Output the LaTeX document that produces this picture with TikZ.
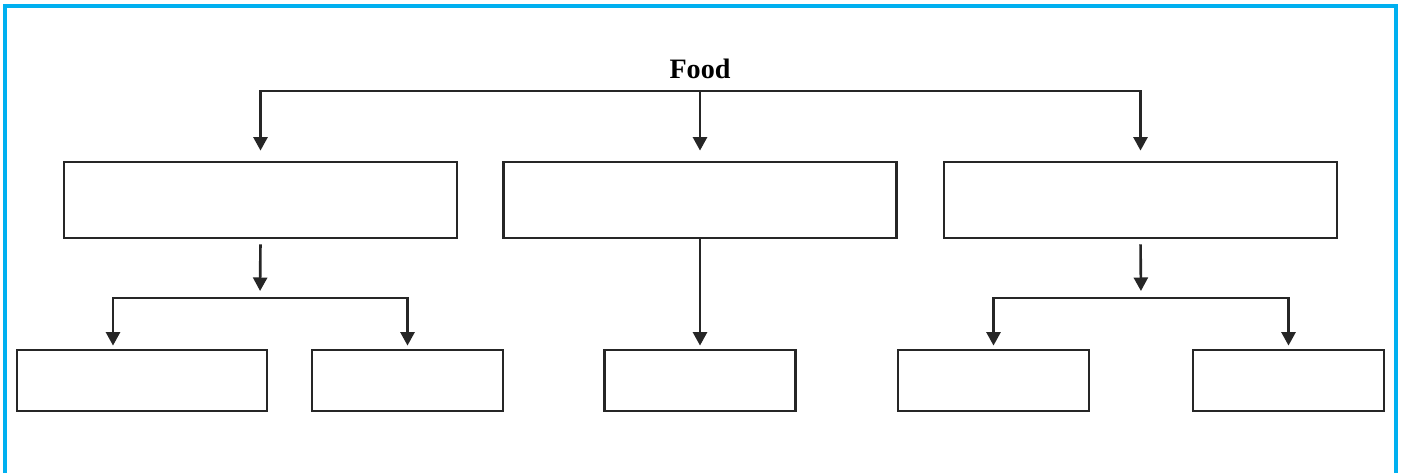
\documentclass[tikz,border=0pt]{standalone}
\usepackage{fontspec}
\setmainfont{Liberation Serif}
\usepackage{tikz}
\usetikzlibrary{arrows.meta}

\tikzset{
  box/.style={draw=black!85, line width=1.6pt, minimum height=1.52cm, inner sep=0pt},
  leaf/.style={draw=black!85, line width=1.6pt, minimum height=1.22cm, inner sep=0pt},
  flow/.style={->, line width=1.5pt, draw=black!85},
}

\begin{document}
\begin{tikzpicture}[>={Triangle[length=0.27cm, width=0.28cm]}, x=0.02cm, y=-0.02cm]
    \useasboundingbox (0,0) rectangle (1402,473);
    \draw[line width=2pt, color={rgb,255:red,0;green,176;blue,240}] (5,473) -- (5,6) -- (1396,6) -- (1396,473);

    \node[font=\bfseries\fontsize{16}{19}\selectfont] (food) at (700,69) {Food};

    % first row
    \node[box, minimum width=7.86cm] (t1) at (260.5,200) {};
    \node[box, minimum width=7.86cm] (t2) at (700,200) {};
    \node[box, minimum width=7.86cm] (t3) at (1140.5,200) {};

    % second row
    \node[leaf, minimum width=5cm] (b1) at (142,380.5) {};
    \node[leaf, minimum width=3.82cm] (b2) at (407.5,380.5) {};
    \node[leaf, minimum width=3.82cm] (b3) at (700,380.5) {};
    \node[leaf, minimum width=3.82cm] (b4) at (993.5,380.5) {};
    \node[leaf, minimum width=3.82cm] (b5) at (1288.5,380.5) {};

    \coordinate (bar) at (700,91);
    \coordinate (j1) at (260,298);
    \coordinate (j3) at (1141,298);

    \draw[flow, shorten >=0.2cm] (bar) -| (t1.north);
    \draw[flow, shorten >=0.2cm] (bar) -- (t2.north);
    \draw[flow, shorten >=0.2cm] (bar) -| (t3.north);

    \draw[flow, shorten <=0.1cm, shorten >=0.14cm] (t1.south) -- (j1);
    \draw[flow, shorten >=0.06cm] (j1) -| ([xshift=-0.58cm]b1.north);
    \draw[flow, shorten >=0.06cm] (j1) -| (b2.north);

    \draw[flow, shorten >=0.06cm] (t2.south) -- (b3.north);

    \draw[flow, shorten <=0.1cm, shorten >=0.14cm] (t3.south) -- (j3);
    \draw[flow, shorten >=0.06cm] (j3) -| (b4.north);
    \draw[flow, shorten >=0.06cm] (j3) -| (b5.north);
  \end{tikzpicture}
\end{document}
